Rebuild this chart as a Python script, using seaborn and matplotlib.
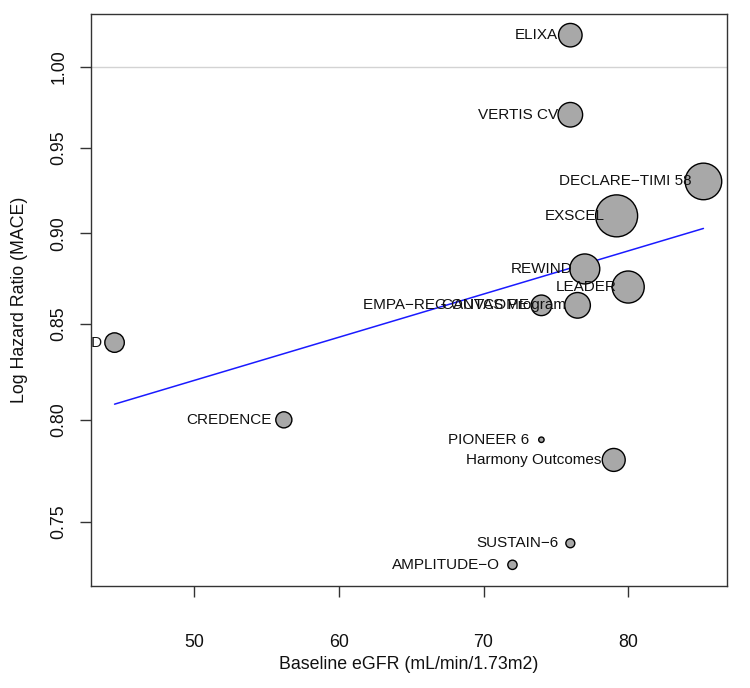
import numpy as np
import pandas as pd
import matplotlib
matplotlib.use("Agg")
import matplotlib.pyplot as plt
import seaborn as sns

# ---- data ----
studies = ["ELIXA", "VERTIS CV", "DECLARE\u2212TIMI 58", "EXSCEL", "REWIND", "LEADER",
           "EMPA\u2212REG OUTCOME", "CANVAS Program", "SCORED", "CREDENCE", "PIONEER 6",
           "Harmony Outcomes", "SUSTAIN\u22126", "AMPLITUDE\u2212O"]
egfr = [76.0, 76.0, 85.2, 79.2, 77.0, 80.0, 74.0, 76.5, 44.5, 56.2, 74.0, 79.0, 76.0, 72.0]
hazard_ratio = [1.02, 0.97, 0.93, 0.91, 0.88, 0.87, 0.86, 0.86, 0.84, 0.80, 0.79, 0.78, 0.74, 0.73]
weight = [6.4, 7.0, 15.5, 20.4, 10.4, 11.9, 4.9, 7.6, 4.4, 3.0, 0.34, 6.1, 0.93, 1.0]
# meta-regression fit: log(HR) = intercept + slope * eGFR
fit_intercept = -0.3346
fit_slope = 0.002727
x_ticks = [50, 60, 70, 80]
y_ticks = [0.75, 0.80, 0.85, 0.90, 0.95, 1.00]
y_tick_labels = ["0.75", "0.80", "0.85", "0.90", "0.95", "1.00"]
x_label = "Baseline eGFR (mL/min/1.73m2)"
y_label = "Log Hazard Ratio (MACE)"

df = pd.DataFrame({"study": studies, "egfr": egfr, "hr": hazard_ratio, "weight": weight})
df = df.sort_values("weight", ascending=False)

sns.set_theme(style="white")
plt.rcParams["font.family"] = ["Liberation Sans", "DejaVu Sans"]
plt.rcParams["axes.unicode_minus"] = True

fig = plt.figure(figsize=(7.5, 6.88), dpi=100)
W, H = 750, 688
L, R, T, B = 91, 727, 14, 586
ax = fig.add_axes([L / W, 1 - B / H, (R - L) / W, (B - T) / H])

# reference line at HR = 1
ax.axhline(1.0, color="#d3d3d3", lw=1.0, zorder=1)

# regression line
xs = np.linspace(min(egfr), max(egfr), 100)
line_df = pd.DataFrame({"x": xs, "y": np.exp(fit_intercept + fit_slope * xs)})
sns.lineplot(data=line_df, x="x", y="y", color="#1a1aff", lw=1.1, ax=ax, zorder=2)

# bubbles: marker area proportional to weight
k = 44.75
wmin, wmax = min(weight), max(weight)
sns.scatterplot(data=df, x="egfr", y="hr", size="weight", sizes=(k * wmin, k * wmax),
                size_norm=(wmin, wmax), color="#a8a8a8", edgecolor="black", linewidth=1.0,
                legend=False, ax=ax, zorder=3)

for _, r in df.iterrows():
    ax.annotate(r["study"], (r["egfr"], r["hr"]), xytext=(-12, 0), textcoords="offset pixels",
                ha="right", va="center", fontsize=11, color="#111111", clip_on=True, zorder=4)

ax.set_yscale("log")
lo, hi = np.log(min(hazard_ratio)), np.log(max(hazard_ratio))
pad = 0.04 * (hi - lo)
ax.set_ylim(np.exp(lo - pad), np.exp(hi + pad))
xpad = 0.04 * (max(egfr) - min(egfr))
ax.set_xlim(min(egfr) - xpad, max(egfr) + xpad)

ax.set_xticks(x_ticks)
ax.set_xticklabels([str(t) for t in x_ticks])
ax.set_yticks(y_ticks)
ax.set_yticklabels(y_tick_labels)
ax.yaxis.set_minor_locator(matplotlib.ticker.NullLocator())
ax.tick_params(axis="both", which="major", direction="out", length=8, width=1.0,
               color="#333333", labelsize=12.8, labelcolor="#111111", bottom=True, left=True)
ax.tick_params(axis="x", pad=26.5)
ax.tick_params(axis="y", pad=9)
for lab in ax.get_yticklabels():
    lab.set_rotation(90)
    lab.set_va("center")

for s in ax.spines.values():
    s.set_color("#333333")
    s.set_linewidth(1.0)
    s.set_visible(True)

ax.set_xlabel(x_label, fontsize=12.8, color="#111111")
ax.set_ylabel(y_label, fontsize=12.8, color="#111111")
ax.xaxis.set_label_coords(0.5, -(656 - B) / (B - T))
ax.yaxis.set_label_coords(-(L - 28) / (R - L), 0.5)

fig.savefig("out.png", dpi=100)
